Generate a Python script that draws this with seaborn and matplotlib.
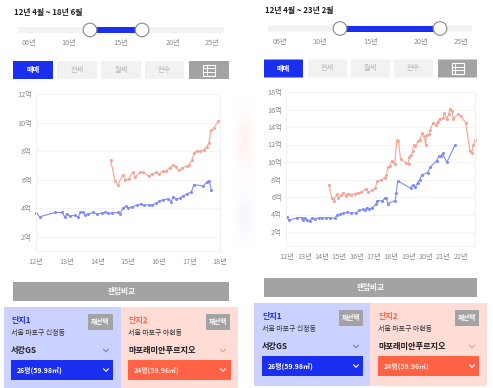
import pandas as pd
import numpy as np
import matplotlib.pyplot as plt
import seaborn as sns
from matplotlib.patches import Rectangle, FancyBboxPatch, Circle

# Datos del gráfico izquierdo (año, precio en 억)
left_blue_x = [12.0, 12.12, 12.63, 12.86, 12.94, 13.0, 13.12, 13.27, 13.37, 13.44, 13.53, 13.6, 13.71, 13.85, 14.0,
               14.15, 14.26, 14.36, 14.47, 14.66, 14.74, 14.83, 14.92, 15.0, 15.12, 15.29, 15.42, 15.53, 15.67, 15.78,
               15.92, 16.02, 16.15, 16.32, 16.4, 16.48, 16.57, 16.68, 16.8, 16.92, 17.07, 17.15, 17.46, 17.57, 17.65, 17.72]
left_blue_y = [3.66, 3.4, 3.7, 3.7, 3.35, 3.6, 3.45, 3.5, 3.35, 3.7, 3.7, 3.55, 3.6, 3.7, 3.6,
               3.65, 3.75, 3.65, 3.65, 3.7, 3.6, 4.0, 4.12, 4.03, 4.1, 4.2, 4.3, 4.2, 4.25, 4.2,
               4.35, 4.5, 4.6, 4.65, 4.45, 4.8, 4.65, 4.7, 4.85, 5.0, 5.15, 5.65, 5.55, 5.85, 5.9, 5.25]
left_red_x = [14.43, 14.58, 14.67, 14.83, 14.9, 15.02, 15.15, 15.23, 15.4, 15.5, 15.67, 15.78, 15.92, 16.02, 16.13,
              16.24, 16.37, 16.48, 16.57, 16.65, 16.75, 16.92, 17.0, 17.08, 17.15, 17.24, 17.35, 17.48, 17.57, 17.64,
              17.7, 17.8, 17.94]
left_red_y = [7.4, 5.9, 5.6, 6.35, 6.0, 6.05, 6.5, 6.2, 6.5, 6.5, 6.25, 6.4, 6.5, 6.4, 6.6,
              6.6, 6.85, 7.0, 6.9, 6.65, 6.8, 6.95, 7.05, 7.35, 7.85, 8.0, 8.0, 8.1, 8.3, 8.55,
              9.45, 9.6, 10.1]

# Datos del gráfico derecho
right_blue_x = [12.0, 12.12, 12.6, 12.87, 12.92, 13.02, 13.15, 13.3, 13.45, 13.63, 13.85, 14.04, 14.23, 14.46, 14.75,
                14.88, 15.08, 15.23, 15.46, 15.71, 15.96, 16.15, 16.38, 16.5, 16.58, 16.73, 16.92, 17.12, 17.2, 17.5,
                17.62, 17.73, 17.8, 18.23, 18.3, 18.37, 19.12, 19.23, 19.4, 19.52, 19.65, 19.75, 20.1, 20.25, 20.62,
                20.75, 20.85, 20.96, 21.2, 21.7]
right_blue_y = [3.68, 3.33, 3.65, 3.65, 3.33, 3.6, 3.33, 3.25, 3.65, 3.5, 3.65, 3.55, 3.65, 3.65, 3.55,
                3.95, 4.05, 4.13, 4.25, 4.17, 4.2, 4.48, 4.6, 4.48, 4.8, 4.65, 4.8, 5.15, 5.6, 5.55,
                5.85, 5.85, 5.25, 5.6, 6.5, 7.85, 7.0, 7.35, 7.15, 7.65, 8.0, 8.5, 8.8, 9.4, 10.15,
                10.7, 10.65, 11.0, 9.95, 12.0]
right_red_x = [14.42, 14.58, 14.71, 14.85, 14.96, 15.13, 15.23, 15.37, 15.52, 15.7, 15.9, 16.1, 16.29, 16.54, 16.69,
               16.87, 17.08, 17.2, 17.44, 17.63, 17.73, 17.8, 17.92, 18.02, 18.2, 18.33, 18.42, 18.54, 18.88, 19.0,
               19.04, 19.15, 19.23, 19.3, 19.4, 19.56, 19.65, 19.8, 19.92, 19.98, 20.04, 20.2, 20.25, 20.42, 20.58,
               20.67, 20.8, 21.0, 21.05, 21.2, 21.33, 21.38, 21.5, 21.58, 21.87, 22.0, 22.3, 22.54, 22.63, 22.73, 22.83]
right_red_y = [7.37, 5.9, 5.6, 6.3, 5.9, 6.2, 6.5, 6.15, 6.4, 6.2, 6.4, 6.5, 6.55, 6.95, 6.57,
               6.76, 7.0, 7.8, 8.0, 8.2, 8.55, 9.43, 9.5, 10.08, 9.8, 12.5, 12.37, 10.35, 9.9, 9.77,
               10.57, 10.76, 11.25, 11.9, 11.85, 12.4, 12.55, 13.35, 12.93, 12.0, 13.05, 13.15, 13.7, 14.5, 14.2,
               14.57, 14.95, 15.03, 15.65, 14.95, 15.52, 16.1, 15.83, 14.95, 15.52, 15.25, 14.45, 11.25, 11.0, 11.9, 12.5]

left_years = [12, 13, 14, 15, 16, 17, 18]
right_years = [12, 13, 14, 15, 16, 17, 18, 19, 20, 21, 22]
left_ticks = [2, 4, 6, 8, 10, 12]
right_ticks = [2, 4, 6, 8, 10, 12, 14, 16, 18]
slider_labels = ['06년', '10년', '15년', '20년', '25년']
tab_labels = ['매매', '전세', '월세', '전수']

sns.set_theme(style='white')
plt.rcParams['font.family'] = ['Noto Sans CJK KR', 'DejaVu Sans']

W, H = 493, 388
BLUE = '#1a2ff0'
ORANGE = '#ff6244'
GRAY = '#a3a3a3'

fig = plt.figure(figsize=(W / 100, H / 100), dpi=100)

# Capa de fondo en coordenadas de píxel
bg = fig.add_axes([0, 0, 1, 1])
bg.set_xlim(0, W)
bg.set_ylim(H, 0)
bg.axis('off')


def box(x0, y0, x1, y1, color, zorder=2):
    bg.add_patch(FancyBboxPatch((x0 + 0.5, y0 + 0.5), x1 - x0 - 1, y1 - y0 - 1, boxstyle='round,pad=0.5',
                                fc=color, ec='none', zorder=zorder))


def chevron(x, y, color):
    bg.plot([x - 2.5, x, x + 2.5], [y - 1.3, y + 1.3, y - 1.3], color=color, lw=0.8, zorder=4)


def label(x, y, s, size=5.2, color='#333333', weight='normal', ha='left'):
    bg.text(x, y, s, fontsize=size, color=color, fontweight=weight, ha=ha, va='center', zorder=5)


# Resplandor tenue entre las dos capturas
gx, gy = np.meshgrid(np.linspace(-1, 1, 40), np.linspace(-1, 1, 40))
glow = np.exp(-(gx ** 2 + gy ** 2) * 2.5)
bg.imshow(glow, extent=(232, 258, 185, 100), aspect='auto',
          cmap=sns.blend_palette(['white', '#fff3f0'], as_cmap=True), zorder=0)
bg.imshow(glow, extent=(232, 258, 250, 185), aspect='auto',
          cmap=sns.blend_palette(['white', '#f5f6ff'], as_cmap=True), zorder=0)
bg.set_xlim(0, W)
bg.set_ylim(H, 0)


def top_controls(tx, ty, title, track, sl, sy, slider_x, handles, tabs, tab_y):
    label(tx, ty, title, size=5.7, color='#222222', weight='bold')
    box(track[0], sy - 3, track[1], sy + 3, '#f2f2f3')
    bg.add_patch(Rectangle((handles[0], sy - 3), handles[1] - handles[0], 6, fc=BLUE, ec='none', zorder=3))
    for hx in handles:
        bg.add_patch(Circle((hx, sy), 6.8, fc='white', ec='#8a8a8a', lw=0.8, zorder=4))
    for s, lx in zip(sl, slider_x):
        label(lx, sy + 13.5, s, color='#8c8c8c', ha='center')
    for i, s in enumerate(tab_labels):
        x0, x1 = tabs[i]
        box(x0, tab_y, x1, tab_y + 18, BLUE if i == 0 else '#f2f2f3')
        label((x0 + x1) / 2, tab_y + 8.7, s, color='white' if i == 0 else '#b5b5b5', ha='center',
              weight='bold' if i == 0 else 'normal')
    x0, x1 = tabs[4]
    box(x0, tab_y, x1, tab_y + 18, GRAY)
    cx = (x0 + x1) / 2
    bg.add_patch(Rectangle((cx - 6, tab_y + 3.5), 12, 11, fc='none', ec='white', lw=0.8, zorder=4))
    for k in (1, 2):
        bg.plot([cx - 6, cx + 6], [tab_y + 3.5 + k * 3.7] * 2, color='white', lw=0.7, zorder=4)
    bg.plot([cx - 2.5, cx - 2.5], [tab_y + 3.5, tab_y + 14.5], color='white', lw=0.7, zorder=4)


def bottom_panels(bx, by, px, py, drop_l, drop_r, btn_l, btn_r, chev_l, chev_r):
    box(bx[0], by, bx[1], by + 19, GRAY)
    label((bx[0] + bx[1]) / 2, by + 9.5, '랜덤비교', size=5.5, color='white', ha='center', weight='bold')
    bg.add_patch(Rectangle((px[0], py), px[1] - px[0], 83, fc='#ccd2ff', ec='none', zorder=1))
    bg.add_patch(Rectangle((px[1], py), px[2] - px[1], 83, fc='#ffdcd6', ec='none', zorder=1))

    label(drop_l[0], py + 13, '단지1', size=5.8, color=BLUE, weight='bold')
    label(drop_r[0], py + 13, '단지2', size=5.8, color=ORANGE, weight='bold')
    for b in (btn_l, btn_r):
        box(b[0], py + 7, b[1], py + 23, GRAY)
        label((b[0] + b[1]) / 2, py + 14.7, '재선택', size=4.8, color='white', ha='center', weight='bold')
    label(drop_l[0], py + 26, '서울 마포구 신정동', size=5.0)
    label(drop_r[0], py + 26, '서울 마포구 아현동', size=5.0)
    label(drop_l[0], py + 43.5, '서강GS', size=5.9, color='#1c1c1c', weight='bold')
    label(drop_r[0], py + 43.5, '마포래미안푸르지오', size=5.9, color='#1c1c1c', weight='bold')
    chevron(chev_l, py + 43.5, '#6f7df0')
    chevron(chev_r, py + 43.5, '#f79a86')
    box(drop_l[0], py + 53, drop_l[1], py + 73, BLUE)
    box(drop_r[0], py + 53, drop_r[1], py + 73, ORANGE)
    label(drop_l[0] + 6, py + 63, '26평(59.98㎡)', size=5.0, color='white', weight='bold')
    label(drop_r[0] + 6, py + 63, '24평(59.96㎡)', size=5.0, color='#ffe3dc', weight='bold')
    chevron(chev_l, py + 63, 'white')
    chevron(chev_r, py + 63, 'white')


top_controls(14, 12, '12년 4월 ~ 18년 6월', (18, 224), slider_labels, 30, [29, 69, 121, 173, 212], (90, 142),
             [(13, 53), (57, 97), (101, 141), (145, 184), (189, 229)], 61)
top_controls(265, 11, '12년 4월 ~ 23년 2월', (268, 472), slider_labels, 28.5, [280, 320, 371, 421, 461], (340, 440),
             [(264, 303), (308, 347), (351, 390), (394, 433), (438, 477)], 59.5)

bottom_panels((13, 229), 282, (4, 121, 238), 307, (11, 113), (128, 231), (88, 113), (206, 230), 106, 223)
bottom_panels((264, 477), 278, (254, 370, 487), 303, (262, 363), (378, 479), (339, 363), (455, 479), 356, 472)


def price_chart(rect, blue_x, blue_y, red_x, red_y, years, yticks, xlim, ylim):
    l, t, r, b = rect
    ax = fig.add_axes([l / W, 1 - b / H, (r - l) / W, (b - t) / H])
    ax.patch.set_alpha(0)
    df_blue = pd.DataFrame({'anio': blue_x, 'precio': blue_y})
    df_red = pd.DataFrame({'anio': red_x, 'precio': red_y})
    sns.lineplot(x='anio', y='precio', data=df_blue, ax=ax, color='#7f8df5', lw=0.8, marker='o', markersize=2.2,
                 markeredgewidth=0, sort=False, estimator=None, clip_on=False)
    sns.lineplot(x='anio', y='precio', data=df_red, ax=ax, color='#f4a595', lw=0.8, marker='o', markersize=2.2,
                 markeredgewidth=0, sort=False, estimator=None, clip_on=False)
    ax.set_xlim(*xlim)
    ax.set_ylim(*ylim)
    ax.set_xlabel('')
    ax.set_ylabel('')
    ax.set_xticks(years)
    ax.set_xticklabels([f'{y}년' for y in years])
    ax.set_yticks(yticks)
    ax.set_yticklabels([f'{y}억' for y in yticks])
    ax.tick_params(axis='both', length=0, labelsize=5.2, labelcolor='#8c8c8c', pad=3)
    ax.tick_params(axis='x', pad=5)
    ax.grid(axis='y', color='#f3f3f3', lw=0.7)
    ax.set_axisbelow(True)
    for s in ax.spines.values():
        s.set_color('#f0f0f0')
        s.set_linewidth(0.7)
    return ax


price_chart((36, 94, 220, 251), left_blue_x, left_blue_y, left_red_x, left_red_y, left_years, left_ticks,
            (12.0, 18.0), (1.0, 12.0))
price_chart((286, 92, 475, 246), right_blue_x, right_blue_y, right_red_x, right_red_y, right_years, right_ticks,
            (11.94, 22.83), (0.4, 18.0))

plt.savefig('out.png', dpi=100)
